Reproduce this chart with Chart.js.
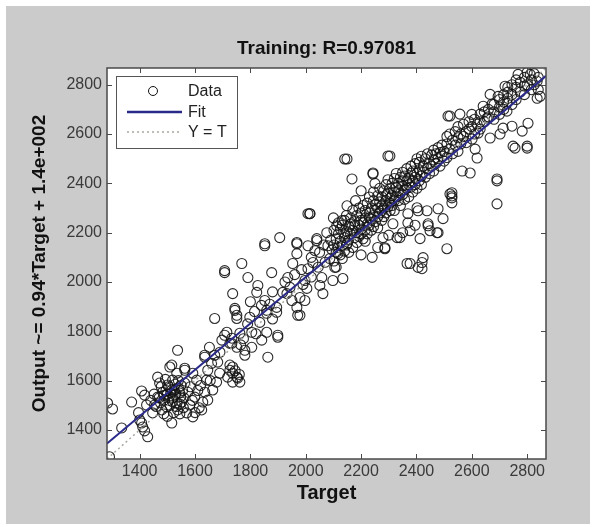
<!DOCTYPE html>
<html>
<head>
<meta charset="utf-8">
<script src="https://cdn.jsdelivr.net/npm/chart.js@4"></script>
<style>
html, body { margin: 0; padding: 0; background: #fff; }
canvas { display: block; }
</style>
</head>
<body>
<canvas id="c" width="593" height="527"></canvas>
<script>
// labels
const chartTitle = 'Training: R=0.97081';
const xLabel = 'Target';
const yLabel = 'Output ~= 0.94*Target + 1.4e+002';
const legendNames = ['Data', 'Fit', 'Y = T'];

// axes (same range on both, like plotregression)
const axisRange = [1282, 2868];
const tickVals = [1400, 1600, 1800, 2000, 2200, 2400, 2600, 2800];

// fit line and Y = T line, end points
const fitEnds = [[1282, 1345], [2868, 2836]];
const identEnds = [[1282, 1282], [2868, 2868]];

// data points [target, output]
const lowTail = [[1291,1291],[1284,1509],[1302,1485],[1335,1408],[1371,1513],[1400,1440],[1407,1428],
	[1411,1412],[1418,1396],[1429,1372],[1407,1558],[1418,1541],[1425,1501],[1396,1470]];

const cluster1500 = [[1447,1469],[1454,1501],[1465,1614],[1472,1590],[1465,1533],[1483,1553],[1490,1521],
	[1480,1481],[1498,1493],[1509,1533],[1516,1562],[1501,1582],[1519,1602],[1516,1663],[1537,1723],
	[1534,1630],[1527,1541],[1516,1428],[1537,1481],[1552,1513],[1563,1590],[1563,1642],[1574,1553],
	[1581,1501],[1570,1469],[1592,1453],[1500,1545],[1505,1520],[1512,1550],[1520,1530],[1525,1560],
	[1530,1545],[1540,1570],[1545,1550],[1535,1510],[1548,1535],[1555,1560],[1495,1560],[1488,1540],
	[1510,1500],[1528,1585],[1540,1600],[1550,1580],[1560,1530],[1475,1510],[1505,1575],[1518,1515],
	[1532,1495],[1545,1505],[1558,1490],[1545,1465],[1523,1470],[1500,1455],[1487,1465],[1460,1495],
	[1470,1530],[1509,1655],[1563,1650],[1440,1520],[1452,1545],[1478,1575],[1493,1605],[1583,1575],[1590,1520]];

const mid1600 = [[1599,1533],[1606,1602],[1592,1630],[1624,1481],[1628,1513],[1635,1553],[1642,1602],
	[1646,1642],[1635,1703],[1660,1670],[1671,1703],[1682,1675],[1689,1630],[1678,1594],[1664,1562],
	[1646,1521],[1610,1560],[1620,1580],[1655,1600],[1615,1490],[1600,1470],[1635,1695],[1671,1852],
	[1697,1764],[1652,1735],[1690,1715]];

const mid1800 = [[1707,1784],[1733,1772],[1751,1735],[1780,1703],[1805,1735],[1863,1695],[1726,1663],
	[1736,1630],[1754,1610],[1718,1614],[1736,1594],[1733,1751],[1762,1594],[1751,1614],[1745,1640],
	[1760,1625],[1736,1655],[1726,1642],[1780,1723],[1715,1796],[1726,1751],[1762,1792],[1805,1796],
	[1841,1764],[1859,1796],[1899,1784],[1899,1776],[1744,1893],[1751,1865],[1751,1852],[1744,1885],
	[1798,1857],[1834,1836],[1859,1885],[1859,1873],[1895,1877],[1895,1897],[1852,1925],[1823,1958],
	[1827,1986],[1736,1953],[1791,2018],[1707,2046],[1707,2038],[1769,2075],[1877,2038],[1852,2155],
	[1852,2147],[1906,2180],[1790,1830],[1815,1880],[1870,1910],[1880,1850],[1820,1790],[1775,1770],
	[1765,1745],[1880,1960],[1840,1905],[1800,1920]];

const mid2000 = [[1917,1958],[1935,2018],[1953,2075],[1968,2115],[1968,2160],[1968,2155],[1943,1978],
	[1950,1925],[1968,1897],[1971,1865],[1979,1937],[1979,1865],[1997,1925],[2004,1974],[1997,2006],
	[2008,2054],[2026,2079],[2033,2127],[2040,2176],[2040,2168],[2008,2147],[2008,2277],[2015,2277],
	[2058,2018],[2062,1953],[2051,1986],[2076,2200],[2080,2147],[2087,2095],[2105,2059],[2116,2115],
	[2134,2014],[2098,2006],[1932,1953],[1925,2000],[1960,2030],[1985,2050],[2020,2100],[2050,2120],
	[2065,2150],[2090,2170],[2045,2060],[2070,2080],[2095,2130],[2020,2020],[1990,1990]];

const band2100 = [[2102,2150],[2102,2085],[2102,2210],[2110,2120],[2110,2175],[2110,2060],[2118,2195],
	[2118,2140],[2118,2240],[2125,2110],[2125,2165],[2125,2215],[2132,2230],[2132,2150],[2132,2095],
	[2140,2180],[2140,2250],[2140,2125],[2147,2205],[2147,2150],[2147,2270],[2155,2170],[2155,2225],
	[2155,2120],[2162,2260],[2162,2195],[2162,2235],[2170,2140],[2170,2210],[2170,2290],[2177,2245],
	[2177,2180],[2177,2230],[2185,2200],[2185,2270],[2185,2160],[2192,2230],[2192,2300],[2192,2185],
	[2200,2250],[2200,2195],[2200,2280],[2200,2215],[2207,2175],[2207,2240],[2207,2310],[2215,2260],
	[2215,2210],[2215,2290],[2215,2165],[2222,2235],[2222,2320],[2222,2195],[2230,2280],[2230,2230],
	[2230,2345],[2230,2260],[2237,2210],[2237,2300],[2237,2255],[2245,2330],[2245,2270],[2245,2225],
	[2245,2365],[2252,2290],[2252,2245],[2252,2315],[2260,2350],[2260,2265],[2260,2300],[2260,2220],
	[2267,2325],[2267,2280],[2267,2380],[2275,2250],[2275,2310],[2275,2345],[2275,2290],[2282,2370],
	[2282,2300],[2282,2265],[2290,2330],[2290,2395],[2290,2280],[2290,2350],[2297,2305],[2297,2360],[2297,2415]];

const band2300 = [[2305,2340],[2305,2290],[2305,2380],[2305,2320],[2312,2400],[2312,2350],[2312,2310],
	[2320,2365],[2320,2420],[2320,2330],[2320,2290],[2327,2385],[2327,2345],[2327,2440],[2335,2330],
	[2335,2400],[2335,2370],[2342,2425],[2342,2360],[2342,2310],[2350,2390],[2350,2445],[2350,2355],
	[2350,2410],[2357,2375],[2357,2430],[2357,2335],[2365,2410],[2365,2460],[2365,2380],[2372,2345],
	[2372,2420],[2372,2395],[2380,2440],[2380,2385],[2380,2470],[2387,2410],[2387,2365],[2387,2450],
	[2395,2480],[2395,2425],[2395,2395],[2402,2440],[2402,2380],[2402,2500],[2410,2455],[2410,2410],
	[2410,2485],[2418,2430],[2418,2510],[2418,2395],[2425,2470],[2425,2445],[2432,2500],[2432,2425],
	[2440,2460],[2440,2520],[2447,2480],[2447,2440],[2455,2515],[2455,2470],[2462,2495],[2462,2450],
	[2462,2535],[2470,2520],[2470,2480],[2478,2545],[2478,2500],[2485,2470],[2485,2525],[2492,2555],
	[2492,2510],[2500,2530],[2500,2490]];

const belowBand = [[2286,2135],[2286,2139],[2366,2075],[2377,2075],[2406,2059],[2420,2079],[2420,2054],
	[2424,2099],[2377,2208],[2413,2176],[2369,2240],[2402,2301],[2438,2289],[2442,2236],[2442,2228],
	[2449,2208],[2474,2200],[2478,2200],[2478,2297],[2496,2257],[2510,2135],[2528,2349],[2528,2321],
	[2528,2362],[2528,2341],[2521,2357],[2330,2180],[2350,2200],[2395,2230],[2300,2190],[2260,2140],
	[2240,2100],[2200,2110],[2340,2180],[2279,2180],[2315,2236],[2369,2277],[2406,2289]];

const aboveBand = [[2141,2499],[2149,2499],[2304,2511],[2297,2511],[2243,2438],[2243,2442],[2167,2418],
	[2015,2277],[2149,2309],[2112,2228],[2131,2249],[2141,2196],[2149,2155],[2200,2370],[2180,2330],
	[2250,2400],[2100,2260]];

const top2500 = [[2514,2673],[2521,2673],[2557,2681],[2756,2543],[2749,2551],[2800,2543],[2800,2551],
	[2803,2644],[2782,2612],[2691,2418],[2691,2410],[2691,2317],[2612,2539],[2619,2503],[2565,2450],
	[2594,2442],[2767,2842],[2811,2842],[2836,2814],[2847,2753],[2836,2745],[2720,2794],[2695,2753],
	[2666,2761],[2673,2721],[2641,2713],[2630,2681],[2655,2665],[2619,2640],[2666,2584],[2623,2604],
	[2601,2580],[2727,2693],[2745,2632],[2713,2624],[2727,2725],[2702,2600]];

const top2700 = [[2510,2560],[2510,2505],[2510,2590],[2520,2540],[2520,2600],[2530,2575],[2530,2520],
	[2540,2610],[2540,2555],[2550,2585],[2550,2530],[2550,2630],[2560,2600],[2560,2560],[2570,2640],
	[2570,2590],[2580,2610],[2580,2565],[2590,2650],[2590,2620],[2600,2630],[2600,2680],[2610,2600],
	[2610,2660],[2630,2650],[2630,2620],[2645,2690],[2645,2650],[2660,2700],[2660,2670],[2680,2720],
	[2680,2690],[2680,2660],[2700,2740],[2700,2710],[2700,2680],[2715,2760],[2715,2730],[2715,2700],
	[2730,2770],[2730,2745],[2730,2790],[2745,2760],[2745,2800],[2745,2720],[2760,2790],[2760,2740],
	[2760,2820],[2775,2810],[2775,2770],[2790,2830],[2790,2795],[2790,2760],[2800,2850],[2800,2800],
	[2815,2820],[2815,2780],[2825,2845],[2825,2800],[2840,2830],[2840,2780]];

const toXY = arr => arr.map(p => ({x: p[0], y: p[1]}));
const allPoints = [].concat(lowTail, cluster1500, mid1600, mid1800, mid2000, band2100, band2300,
	belowBand, aboveBand, top2500, top2700);

const fitColor = '#2a2a8a';
const identColor = '#a8a8a0';

const matlabFrame = {
	id: 'matlabFrame',
	beforeDraw(chart){
		const {ctx, chartArea: a} = chart;
		ctx.save();
		ctx.fillStyle = '#ffffff';
		ctx.fillRect(0, 0, chart.width, chart.height);
		ctx.fillStyle = '#cbcbcb';
		ctx.fillRect(6, 6, chart.width - 9, chart.height - 9);
		ctx.fillStyle = '#ffffff';
		ctx.fillRect(a.left, a.top, a.right - a.left, a.bottom - a.top);
		ctx.restore();
	},
	afterDraw(chart){
		const {ctx, chartArea: a, scales: {x, y}} = chart;
		ctx.save();
		// box and inward ticks
		ctx.strokeStyle = '#4a4a4a';
		ctx.lineWidth = 1;
		ctx.beginPath();
		x.ticks.forEach((t) =>{
			const px = Math.round(x.getPixelForValue(t.value)) + 0.5;
			ctx.moveTo(px, a.bottom); ctx.lineTo(px, a.bottom - 5);
			ctx.moveTo(px, a.top); ctx.lineTo(px, a.top + 5);
		});
		y.ticks.forEach((t) =>{
			const py = Math.round(y.getPixelForValue(t.value)) + 0.5;
			ctx.moveTo(a.left, py); ctx.lineTo(a.left + 5, py);
			ctx.moveTo(a.right, py); ctx.lineTo(a.right - 5, py);
		});
		ctx.stroke();
		ctx.lineWidth = 1.5;
		ctx.strokeRect(a.left, a.top, a.right - a.left, a.bottom - a.top);

		// title
		ctx.fillStyle = '#111';
		ctx.font = "bold 19px 'Liberation Sans', Arial, sans-serif";
		ctx.textAlign = 'center';
		ctx.textBaseline = 'middle';
		ctx.fillText(chartTitle, (a.left + a.right) / 2, 49);

		// legend box
		const lx = a.left + 9, ly = a.top + 8, lw = 121, lh = 72;
		ctx.fillStyle = '#fff';
		ctx.fillRect(lx, ly, lw, lh);
		ctx.strokeStyle = '#555';
		ctx.lineWidth = 1;
		ctx.strokeRect(lx + 0.5, ly + 0.5, lw, lh);
		const rows = [ly + 15, ly + 36, ly + 56];
		ctx.strokeStyle = '#111';
		ctx.beginPath();
		ctx.arc(lx + 37, rows[0], 4.5, 0, Math.PI * 2);
		ctx.stroke();
		ctx.strokeStyle = fitColor;
		ctx.lineWidth = 2.5;
		ctx.beginPath();
		ctx.moveTo(lx + 11, rows[1]); ctx.lineTo(lx + 66, rows[1]);
		ctx.stroke();
		ctx.strokeStyle = identColor;
		ctx.lineWidth = 1.5;
		ctx.setLineDash([2, 3]);
		ctx.beginPath();
		ctx.moveTo(lx + 11, rows[2]); ctx.lineTo(lx + 66, rows[2]);
		ctx.stroke();
		ctx.setLineDash([]);
		ctx.fillStyle = '#222';
		ctx.font = "16px 'Liberation Sans', Arial, sans-serif";
		ctx.textAlign = 'left';
		legendNames.forEach((name, i) =>{
			ctx.fillText(name, lx + 72, rows[i] + 1);
		});
		ctx.restore();
	}
};

Chart.defaults.font.family = "'Liberation Sans', Arial, sans-serif";

new Chart(document.getElementById('c'), {
	type: 'scatter',
	data: {
		datasets: [{
			label: legendNames[0],
			data: toXY(allPoints),
			showLine: false,
			pointStyle: 'circle',
			pointRadius: 5,
			pointBorderWidth: 1.1,
			borderColor: 'rgba(20,20,20,0.9)',
			backgroundColor: 'rgba(0,0,0,0)',
			clip: 0,
			order: 2
		}, {
			label: legendNames[1],
			data: toXY(fitEnds),
			showLine: true,
			borderColor: fitColor,
			borderWidth: 2,
			pointRadius: 0,
			clip: 0,
			order: 0
		}, {
			label: legendNames[2],
			data: toXY(identEnds),
			showLine: true,
			borderColor: identColor,
			borderWidth: 1.5,
			borderDash: [2, 3],
			pointRadius: 0,
			clip: 0,
			order: 1
		}]
	},
	options: {
		responsive: false,
		animation: false,
		devicePixelRatio: 1,
		layout: {padding: {top: 68, right: 47, bottom: 0, left: 0}},
		plugins: {
			legend: {display: false},
			title: {display: false},
			tooltip: {enabled: false}
		},
		scales: {
			x: {
				type: 'linear',
				min: axisRange[0],
				max: axisRange[1],
				afterBuildTicks: (s) =>{ s.ticks = tickVals.map(v => ({value: v})); },
				afterFit: (s) =>{ s.height = 68; },
				grid: {display: false, drawTicks: false},
				border: {display: false},
				ticks: {color: '#3a3a3a', font: {size: 16}, padding: 3, maxRotation: 0, callback: (v) => String(v)},
				title: {display: true, text: xLabel, color: '#111', font: {size: 20, weight: 'bold'}, padding: {top: 0, bottom: 22}}
			},
			y: {
				type: 'linear',
				min: axisRange[0],
				max: axisRange[1],
				afterBuildTicks: (s) =>{ s.ticks = tickVals.map(v => ({value: v})); },
				afterFit: (s) =>{ s.width = 107; },
				grid: {display: false, drawTicks: false},
				border: {display: false},
				ticks: {color: '#3a3a3a', font: {size: 16}, padding: 5, callback: (v) => String(v)},
				title: {display: true, text: yLabel, color: '#111', font: {size: 19, weight: 'bold'}, padding: {top: 28, bottom: 0}}
			}
		}
	},
	plugins: [matlabFrame]
});
</script>
</body>
</html>
